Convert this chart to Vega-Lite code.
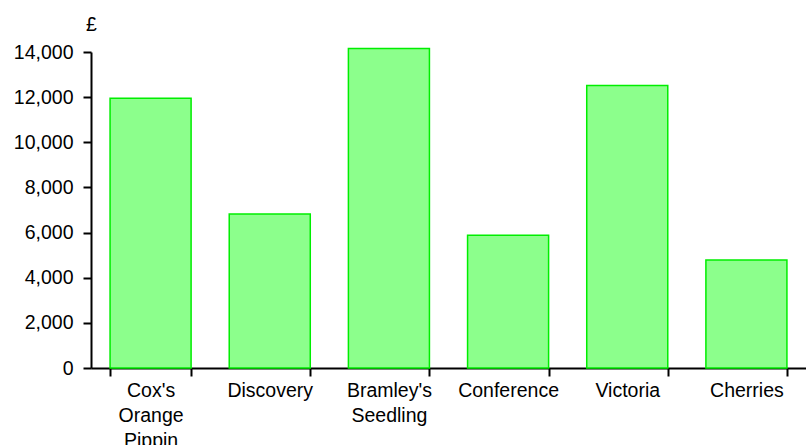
{
  "$schema": "https://vega.github.io/schema/vega-lite/v6.json",
  "width": 715,
  "height": 316,
  "autosize": {"type": "none"},
  "padding": {"left": 91, "top": 52, "right": 0, "bottom": 77},
  "background": "white",
  "config": {
    "view": {"stroke": null},
    "font": "Liberation Sans",
    "axis": {
      "labelFont": "Liberation Sans",
      "titleFont": "Liberation Sans",
      "labelColor": "black",
      "titleColor": "black",
      "domainColor": "black",
      "tickColor": "black",
      "domainWidth": 2,
      "tickWidth": 2,
      "grid": false
    }
  },
  "data": {
    "values": [
      {"fruit": "Cox's Orange Pippin", "value": 11950},
      {"fruit": "Discovery", "value": 6820},
      {"fruit": "Bramley's Seedling", "value": 14150},
      {"fruit": "Conference", "value": 5880},
      {"fruit": "Victoria", "value": 12520},
      {"fruit": "Cherries", "value": 4780}
    ]
  },
  "mark": {
    "type": "bar",
    "fill": "#8cff8c",
    "stroke": "#00ee00",
    "strokeWidth": 1.5
  },
  "encoding": {
    "x": {
      "field": "fruit",
      "type": "nominal",
      "sort": null,
      "scale": {"paddingInner": 0.32, "paddingOuter": 0.16},
      "axis": {
        "title": null,
        "labelAngle": 0,
        "labelFontSize": 19.5,
        "labelLineHeight": 25,
        "labelPadding": 5,
        "labelExpr": "split(datum.label, ' ')",
        "tickBand": "extent",
        "tickSize": 8,
        "labelOverlap": false
      }
    },
    "y": {
      "field": "value",
      "type": "quantitative",
      "scale": {"domain": [0, 14000], "nice": false},
      "axis": {
        "title": "£",
        "titleAngle": 0,
        "titleAlign": "center",
        "titleBaseline": "alphabetic",
        "titleX": 0,
        "titleY": -22,
        "titleFontSize": 19.5,
        "titleFontWeight": "normal",
        "format": ",d",
        "values": [0, 2000, 4000, 6000, 8000, 10000, 12000, 14000],
        "labelFontSize": 19.5,
        "labelPadding": 10,
        "tickSize": 8
      }
    }
  }
}
